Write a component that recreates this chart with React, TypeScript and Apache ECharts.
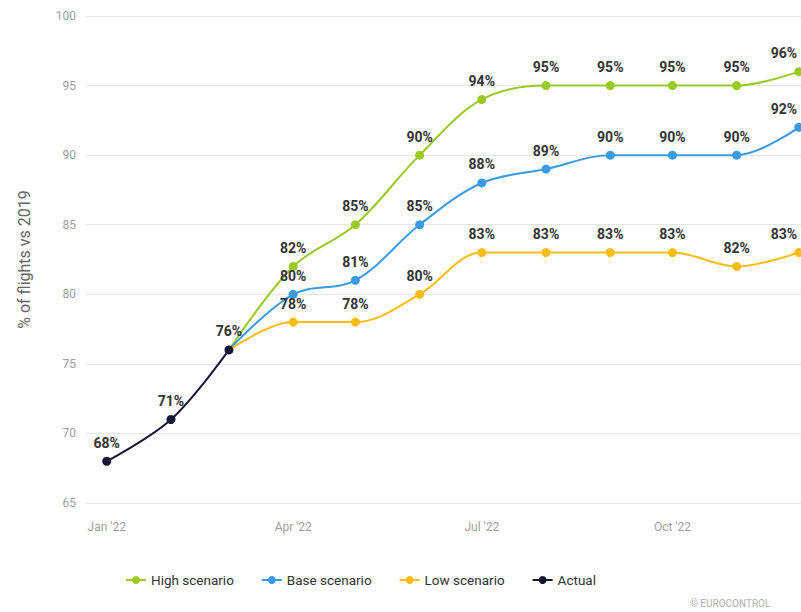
import React, { useEffect, useRef } from "react";
import * as echarts from "echarts";

const months = ["2022-01-01","2022-02-01","2022-03-01","2022-04-01","2022-05-01","2022-06-01","2022-07-01","2022-08-01","2022-09-01","2022-10-01","2022-11-01","2022-12-01"];
const actualValues = [68, 71, 76];
const scenarioMonths = months.slice(2);
const highValues = [76, 82, 85, 90, 94, 95, 95, 95, 95, 96];
const baseValues = [76, 80, 81, 85, 88, 89, 90, 90, 90, 92];
const lowValues = [76, 78, 78, 80, 83, 83, 83, 83, 82, 83];
const xLabelDates = ["2022-01-01", "2022-04-01", "2022-07-01", "2022-10-01"];
const monthNames = ["Jan","Feb","Mar","Apr","May","Jun","Jul","Aug","Sep","Oct","Nov","Dec"];

const ts = (d: string) => Date.UTC(+d.slice(0, 4), +d.slice(5, 7) - 1, +d.slice(8, 10));

function scenarioData(vals: number[]) {
  return vals.map((v, i) => {
    const item: any = { value: [ts(scenarioMonths[i]), v] };
    if (i === 0) {
      item.label = { show: false };
      item.symbolSize = 0;
    }
    if (i === vals.length - 1) {
      item.label = { offset: [-15, 0] };
    }
    return item;
  });
}

export default function App() {
  const ref = useRef<HTMLDivElement>(null);
  useEffect(() => {
    if (!ref.current) return;
    const chart = echarts.init(ref.current, undefined, { renderer: "svg" });
    const labelStyle = {
      show: true,
      position: "top" as const,
      distance: 7,
      formatter: (p: any) => p.value[1] + "%",
      fontFamily: "Roboto",
      fontWeight: "bold" as const,
      fontSize: 14,
      color: "#333333",
    };
    const mk = (name: string, color: string, data: any[], z: number) => ({
      name,
      type: "line",
      smooth: 0.35,
      symbol: "circle",
      symbolSize: 9,
      z,
      lineStyle: { width: 2, color },
      itemStyle: { color },
      label: labelStyle,
      data,
    });
    chart.setOption({
      animation: false,
      backgroundColor: "#ffffff",
      grid: { left: 86, top: 16, width: 775, height: 487, outerBoundsMode: "none", containLabel: false },
      xAxis: {
        type: "value",
        min: ts("2021-12-22"),
        max: ts("2022-12-31"),
        axisLine: { show: false },
        axisTick: { show: false },
        splitLine: { show: false },
        axisLabel: {
          customValues: xLabelDates.map(ts),
          formatter: (v: number) => {
            const d = new Date(v);
            return monthNames[d.getUTCMonth()] + " '" + String(d.getUTCFullYear()).slice(2);
          },
          color: "#a0a0a0",
          fontFamily: "Roboto",
          fontSize: 12,
          margin: 18,
        },
      },
      yAxis: {
        type: "value",
        min: 65,
        max: 100,
        interval: 5,
        name: "% of flights vs 2019",
        nameLocation: "middle",
        nameGap: 54,
        nameTextStyle: { color: "#666666", fontFamily: "Roboto", fontSize: 16 },
        axisLine: { show: false },
        axisTick: { show: false },
        axisLabel: { color: "#a0a0a0", fontFamily: "Roboto", fontSize: 12, margin: 10 },
        splitLine: { lineStyle: { color: "#e6e6e6", width: 1 } },
      },
      legend: {
        left: 120,
        top: 568,
        itemWidth: 20,
        itemHeight: 10,
        itemGap: 27,
        textStyle: { color: "#333333", fontFamily: "Roboto", fontSize: 13.5 },
        data: ["High scenario", "Base scenario", "Low scenario", "Actual"],
      },
      graphic: [
        {
          type: "text",
          left: 690,
          top: 598,
          style: { text: "© EUROCONTROL", fill: "#b0b0b0", fontSize: 10, fontFamily: "Roboto" },
        },
      ],
      series: [
        mk("High scenario", "#9acb23", scenarioData(highValues), 2),
        mk("Base scenario", "#3a9ae8", scenarioData(baseValues), 3),
        mk("Low scenario", "#fbbd12", scenarioData(lowValues), 4),
        mk("Actual", "#171735", actualValues.map((v, i) => ({ value: [ts(months[i]), v] })), 5),
      ],
    });
    return () => chart.dispose();
  }, []);
  return (
    <div
      ref={ref}
      style={{ position: "fixed", left: 0, top: 0, width: 801, height: 612 }}
    />
  );
}
